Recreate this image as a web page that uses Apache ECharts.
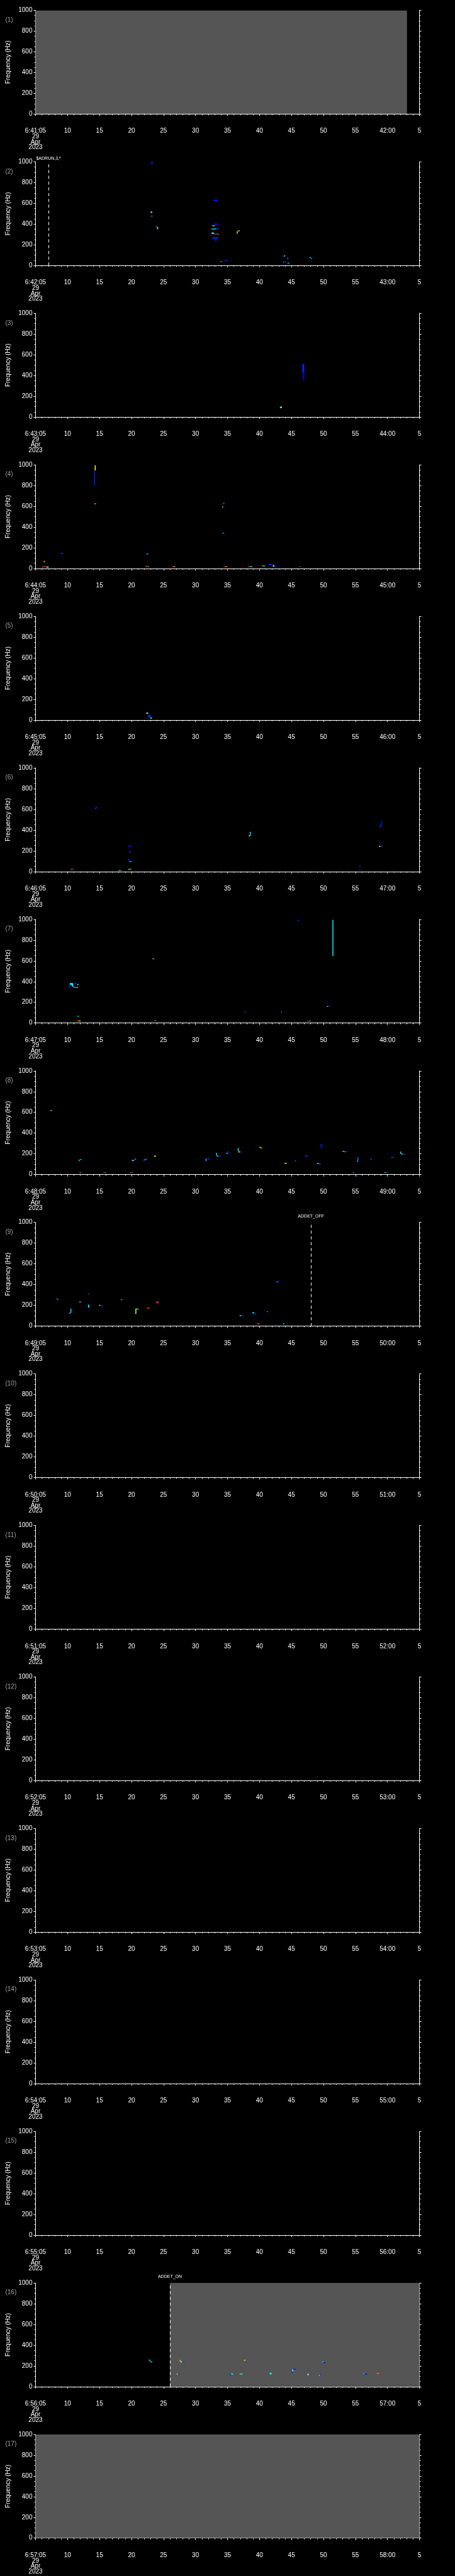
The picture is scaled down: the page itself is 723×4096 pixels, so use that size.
<!DOCTYPE html>
<html>
<head>
<meta charset="utf-8">
<script src="https://cdn.jsdelivr.net/npm/echarts@6/dist/echarts.min.js"></script>
<style>
html, body { margin: 0; padding: 0; background: #000; }
#main { width: 723px; height: 4096px; }
</style>
</head>
<body>
<div id="main"></div>
<script>
// 17 one-minute strips, 29 Apr 2023, each starting at 6:MM:05
var startMinutes = [41, 42, 43, 44, 45, 46, 47, 48, 49, 50, 51, 52, 53, 54, 55, 56, 57];
var panelNames = ['(1)', '(2)', '(3)', '(4)', '(5)', '(6)', '(7)', '(8)', '(9)', '(10)',
                  '(11)', '(12)', '(13)', '(14)', '(15)', '(16)', '(17)'];
var freqTicks = [0, 200, 400, 600, 800, 1000];

// no-data (grey) stretches: [panel, t0, t1] in seconds from strip start
var noDataSpans = [[0, 0, 58.05], [15, 21.0, 60], [16, 0, 60]];

// event markers: [panel, t, text]
var eventMarks = [[1, 2.03, '$ADRUN,3,*'], [8, 43.05, 'ADDET_OFF'], [15, 21.0, 'ADDET_ON']];

// spectrogram cells: [t0, t1, f0, f1, power]  (power 0..10, jet)
var cellsP2 = [
  [18.1, 18.4, 985, 997, 1.5], [18.1, 18.2, 975, 997, 1.5],
  [18.0, 18.2, 508, 522, 6.2], [18.2, 18.4, 510, 518, 1.8],
  [18.0, 18.3, 472, 480, 2.5],
  [18.7, 19.0, 372, 380, 2.0], [19.0, 19.15, 350, 372, 6.3],
  [27.8, 28.5, 620, 630, 1.5], [28.1, 28.3, 630, 640, 1.3],
  [27.6, 28.0, 383, 388, 4.8], [28.0, 28.4, 385, 407, 1.3],
  [27.5, 27.9, 348, 356, 3.8], [27.9, 28.2, 350, 358, 4.5], [28.2, 28.6, 350, 360, 1.8],
  [27.5, 27.9, 305, 318, 3.8], [27.9, 28.1, 296, 304, 8.5], [28.1, 28.4, 300, 310, 1.8], [28.4, 28.6, 300, 306, 3.5],
  [27.6, 28.5, 260, 272, 1.6], [28.1, 28.3, 236, 260, 1.6],
  [28.9, 29.05, 33, 40, 4.5], [29.05, 29.25, 33, 40, 1.8],
  [29.6, 30.0, 44, 51, 1.8],
  [31.4, 31.5, 300, 308, 1.8], [31.45, 31.6, 308, 330, 5.2], [31.6, 31.8, 330, 338, 6.3],
  [31.7, 31.8, 332, 338, 7.5], [31.8, 31.9, 334, 338, 6.0],
  [38.6, 38.85, 87, 95, 1.8], [38.85, 39.0, 88, 96, 6.3], [39.0, 39.2, 92, 98, 1.5],
  [39.3, 39.4, 66, 74, 7.5], [39.4, 39.55, 67, 74, 2.0],
  [38.7, 38.8, 30, 38, 5.0], [38.8, 39.2, 30, 38, 1.6],
  [39.4, 39.6, 20, 27, 3.8], [39.6, 39.8, 20, 27, 1.8],
  [42.85, 43.05, 72, 81, 3.5], [43.05, 43.25, 63, 73, 2.5]
];
var cellsP3 = [
  [41.7, 42.0, 430, 510, 1.6], [41.8, 42.0, 350, 430, 1.3],
  [38.2, 38.5, 85, 100, 4.5]
];
var cellsP4 = [
  [9.25, 9.4, 946, 996, 6.3], [9.15, 9.3, 800, 946, 1.5],
  [9.2, 9.45, 620, 630, 3.5],
  [29.2, 29.35, 626, 634, 8.5], [29.35, 29.55, 626, 634, 2.5],
  [29.15, 29.3, 588, 598, 6.5], [29.3, 29.5, 590, 598, 1.8],
  [29.2, 29.4, 338, 346, 3.6], [29.4, 29.55, 328, 340, 1.5],
  [3.95, 4.3, 140, 152, 1.6],
  [17.3, 17.65, 136, 144, 3.0],
  [1.25, 1.5, 62, 70, 5.2],
  [1.05, 1.2, 5, 21, 8.5], [1.2, 1.7, 16, 22, 8.5], [1.7, 2.05, 8, 20, 3.8],
  [17.2, 17.4, 17, 25, 7.5], [17.4, 17.6, 15, 22, 8.5], [17.6, 17.75, 15, 22, 3.5],
  [21.3, 21.6, 15, 22, 8.5], [21.6, 21.8, 15, 22, 6.3],
  [29.4, 29.7, 15, 22, 8.5], [29.7, 29.9, 15, 22, 6.3],
  [33.2, 33.5, 15, 23, 8.5], [33.5, 33.9, 15, 23, 3.8],
  [35.4, 35.6, 23, 30, 3.8], [35.6, 35.85, 20, 27, 4.3],
  [36.4, 37.0, 32, 40, 1.8], [37.1, 37.3, 17, 36, 5.0], [37.3, 37.8, 15, 22, 1.6],
  [41.25, 41.45, 15, 22, 8.5]
];
var cellsP5 = [
  [17.3, 17.6, 60, 72, 4.8], [17.6, 18.0, 30, 50, 1.6], [17.9, 18.2, 15, 25, 4.0]
];
var cellsP6 = [
  [9.35, 9.5, 600, 620, 1.8], [9.5, 9.7, 615, 622, 1.5],
  [14.5, 14.9, 238, 250, 1.5],
  [14.6, 14.75, 192, 206, 1.5], [14.75, 14.9, 182, 190, 2.5],
  [14.5, 14.65, 100, 123, 1.6], [14.65, 15.05, 92, 100, 3.2],
  [5.5, 5.7, 17, 27, 8.5], [5.7, 5.8, 18, 25, 6.5], [5.8, 6.1, 18, 25, 1.8],
  [12.97, 13.36, 6, 13, 4.2],
  [14.5, 14.7, 19, 26, 6.3], [14.7, 15.0, 19, 26, 3.3],
  [33.5, 33.6, 345, 381, 3.8], [33.55, 33.7, 374, 382, 3.3], [33.35, 33.5, 339, 350, 4.8],
  [53.95, 54.1, 436, 478, 1.5], [53.75, 53.95, 431, 439, 2.5], [54.05, 54.2, 472, 480, 1.5],
  [53.65, 53.9, 238, 248, 6.5], [53.9, 54.3, 241, 249, 1.8],
  [50.6, 50.8, 45, 52, 2.0], [50.6, 50.8, 15, 22, 1.6]
];
var cellsP7 = [
  [5.2, 5.35, 340, 367, 1.5], [5.35, 5.75, 367, 386, 3.5], [5.7, 5.9, 350, 384, 3.8],
  [5.9, 6.3, 340, 350, 2.8], [6.1, 6.45, 378, 390, 1.5], [6.45, 6.75, 368, 374, 3.6],
  [6.45, 6.65, 340, 350, 7.5], [6.35, 6.45, 340, 346, 6.3],
  [40.9, 41.2, 985, 995, 1.6],
  [46.4, 46.55, 647, 995, 3.6],
  [18.3, 18.45, 616, 624, 6.3], [18.45, 18.6, 616, 624, 1.8],
  [45.55, 45.7, 156, 164, 6.3], [45.7, 46.0, 161, 168, 1.6],
  [32.65, 32.85, 105, 112, 2.0], [38.3, 38.5, 105, 112, 2.5],
  [6.5, 6.8, 62, 70, 3.3],
  [6.45, 6.75, 17, 26, 8.5], [6.75, 7.05, 17, 24, 6.3],
  [18.6, 18.85, 20, 27, 3.3],
  [42.45, 42.75, 16, 23, 8.5], [42.75, 43.0, 16, 23, 3.6]
];
var cellsP8 = [
  [2.35, 2.5, 614, 622, 6.3], [2.5, 2.75, 618, 626, 1.8],
  [6.75, 6.9, 128, 142, 3.3], [6.9, 7.2, 140, 149, 2.8],
  [15.0, 15.15, 134, 142, 3.3], [15.15, 15.35, 130, 140, 6.3], [15.35, 15.5, 136, 145, 1.8], [15.5, 15.7, 140, 157, 2.2],
  [16.85, 17.05, 134, 145, 2.2], [17.05, 17.25, 140, 150, 3.0], [17.25, 17.5, 145, 152, 1.8],
  [18.55, 18.8, 172, 182, 6.3],
  [26.55, 26.7, 129, 150, 3.3], [26.7, 27.25, 147, 155, 1.8],
  [28.2, 28.35, 185, 208, 3.5], [28.3, 28.55, 173, 183, 4.0], [28.55, 29.0, 176, 182, 1.8],
  [29.95, 30.1, 205, 225, 1.6], [29.85, 29.95, 198, 210, 5.0], [30.1, 30.4, 205, 212, 1.8],
  [31.6, 31.75, 225, 255, 3.6], [31.7, 31.95, 213, 225, 7.0], [31.95, 32.2, 213, 220, 1.8],
  [35.0, 35.2, 258, 268, 6.3], [35.2, 35.4, 252, 260, 6.6],
  [38.9, 39.3, 106, 113, 5.5],
  [40.5, 40.7, 128, 136, 2.5],
  [42.1, 42.55, 175, 183, 2.0],
  [44.0, 44.25, 104, 113, 3.8], [44.25, 44.55, 100, 107, 2.2],
  [44.55, 44.7, 256, 293, 1.6], [44.7, 44.9, 287, 293, 1.5],
  [47.95, 48.2, 220, 228, 6.8], [48.2, 48.4, 218, 224, 6.0], [48.4, 48.8, 218, 224, 1.8],
  [49.6, 49.8, 17, 24, 3.3],
  [50.3, 50.45, 124, 165, 2.5], [50.4, 50.55, 159, 165, 1.8], [50.2, 50.35, 121, 128, 2.8],
  [52.3, 52.55, 145, 152, 2.2],
  [54.5, 54.75, 17, 24, 4.0], [54.75, 55.0, 17, 24, 2.0],
  [55.55, 56.05, 162, 169, 1.8],
  [57.0, 57.15, 200, 222, 3.5], [57.15, 57.4, 195, 203, 5.0], [57.4, 57.8, 188, 198, 1.6],
  [6.78, 6.95, 17, 24, 8.5], [6.95, 7.15, 17, 24, 3.3],
  [10.6, 10.8, 17, 24, 8.5], [10.8, 11.0, 17, 24, 3.5],
  [14.75, 14.95, 17, 24, 7.5], [14.95, 15.1, 17, 24, 8.5], [15.1, 15.25, 17, 24, 1.8],
  [59.85, 60, 262, 268, 8.0]
];
var cellsP9 = [
  [3.3, 3.55, 254, 266, 2.6],
  [8.2, 8.4, 306, 314, 2.2],
  [6.85, 7.05, 229, 237, 6.3], [7.05, 7.25, 229, 237, 1.8],
  [8.2, 8.4, 178, 206, 3.6], [8.3, 8.45, 200, 206, 1.8],
  [9.9, 10.15, 196, 204, 7.2], [10.15, 10.5, 189, 198, 1.8],
  [5.45, 5.6, 128, 168, 3.5], [5.25, 5.45, 118, 130, 3.0],
  [13.36, 13.5, 250, 258, 6.0], [13.5, 13.6, 250, 258, 2.0],
  [15.6, 15.75, 123, 168, 5.5], [15.7, 16.1, 162, 168, 4.8], [15.55, 15.75, 120, 126, 5.5],
  [17.4, 17.6, 163, 174, 8.5], [17.6, 17.8, 172, 181, 8.0],
  [18.8, 19.05, 226, 236, 8.5], [19.0, 19.2, 216, 228, 8.8], [19.2, 19.4, 230, 236, 1.8], [19.1, 19.2, 228, 236, 7.5],
  [37.6, 38.0, 420, 434, 1.8],
  [33.9, 34.15, 122, 134, 3.8], [34.15, 34.5, 110, 122, 1.5],
  [36.1, 36.35, 135, 142, 2.6],
  [31.9, 32.1, 96, 104, 5.0], [32.1, 32.45, 96, 104, 1.8],
  [34.55, 34.8, 19, 26, 8.5], [34.8, 34.95, 19, 26, 6.3],
  [38.65, 38.9, 19, 26, 3.8]
];
var cellsP16 = [
  [17.7, 17.9, 250, 262, 3.0], [17.85, 18.0, 238, 252, 2.8], [18.0, 18.15, 236, 242, 6.3], [18.15, 18.35, 236, 242, 2.0],
  [22.5, 22.65, 245, 257, 5.0], [22.65, 22.9, 234, 245, 6.3], [22.9, 23.3, 234, 242, 1.8],
  [32.55, 32.65, 250, 258, 7.5], [32.65, 32.8, 250, 258, 6.3],
  [44.85, 45.0, 236, 245, 3.5], [45.0, 45.3, 224, 236, 1.6],
  [40.0, 40.15, 133, 150, 1.6], [40.1, 40.3, 148, 165, 4.3], [40.3, 40.65, 165, 173, 1.5],
  [22.05, 22.25, 118, 125, 6.3], [22.25, 22.5, 118, 125, 1.8],
  [30.3, 30.55, 108, 118, 1.6], [30.55, 30.9, 118, 126, 3.6],
  [31.9, 32.35, 118, 125, 4.3],
  [36.6, 36.9, 118, 134, 3.5],
  [42.5, 42.7, 108, 125, 4.5], [42.7, 42.85, 118, 125, 8.0], [42.85, 43.1, 118, 125, 1.8],
  [44.3, 44.45, 104, 112, 6.3], [44.45, 44.6, 108, 124, 1.8],
  [51.15, 51.4, 124, 130, 3.6], [51.4, 51.85, 118, 126, 1.6],
  [53.3, 53.7, 124, 133, 7.8]
];

var panelCells = {1: cellsP2, 2: cellsP3, 3: cellsP4, 4: cellsP5, 5: cellsP6,
                  6: cellsP7, 7: cellsP8, 8: cellsP9, 15: cellsP16};

// ---- layout (reference pixels scaled to the window) ----
var S = 723 / 1024;
function px(v) { return v * S; }
var FONT = 'Liberation Sans';
var jet = ['#00008f', '#0000ff', '#0080ff', '#00ffff', '#80ff80', '#ffff00', '#ff8000', '#ff0000', '#800000'];
var markLabelGap = {1: px(2), 8: px(9), 15: px(9)};

var chart = echarts.init(document.getElementById('main'));

function timeLabel(m) {
    return function (v) {
        if (v === 0) return '6:' + m + ':05\n29\nApr\n2023';
        var sec = (v + 5) % 60;
        if (sec === 0) return (m + 1) + ':00';
        return String(sec);
    };
}

function rectItem(params, api) {
    var a = api.coord([api.value(0), api.value(3)]);
    var b = api.coord([api.value(1), api.value(2)]);
    return {
        type: 'rect',
        shape: { x: a[0], y: a[1], width: Math.max(b[0] - a[0], 1.2), height: Math.max(b[1] - a[1], 1.2) },
        style: { fill: api.visual('color') }
    };
}

function greyItem(params, api) {
    var a = api.coord([api.value(0), 1000]);
    var b = api.coord([api.value(1), 0]);
    return {
        type: 'rect',
        shape: { x: a[0], y: a[1], width: b[0] - a[0], height: b[1] - a[1] },
        style: { fill: '#555555' }
    };
}

var grids = [], xAxes = [], yAxes = [], series = [], graphics = [], cellSeriesIdx = [];
var axisWhite = { lineStyle: { color: '#ffffff', width: 1 } };

startMinutes.forEach(function (m, i) {
    var top = px(23.3 + 341.2 * i);
    grids.push({ left: px(80), width: px(864), top: top, height: px(233.4) });

    xAxes.push({
        type: 'value', gridIndex: i, min: 0, max: 60, interval: 5,
        position: 'bottom', offset: px(24.3),
        axisLine: axisWhite,
        axisTick: { show: true, length: px(4.3), lineStyle: { color: '#fff' } },
        minorTick: { show: true, splitNumber: 5, length: px(2.7), lineStyle: { color: '#fff' } },
        splitLine: { show: false },
        axisLabel: {
            color: '#fff', fontFamily: FONT, fontSize: 10, lineHeight: 8.6,
            margin: 6, showMinLabel: true, showMaxLabel: true,
            formatter: timeLabel(m)
        }
    });

    var yBase = {
        type: 'value', gridIndex: i, min: 0, max: 1000, interval: 200,
        axisLine: { show: true, lineStyle: { color: '#fff', width: 1 } },
        axisTick: { show: true, length: px(4.3), lineStyle: { color: '#fff' } },
        minorTick: { show: true, splitNumber: 4, length: px(2.7), lineStyle: { color: '#fff' } },
        splitLine: { show: false }
    };
    yAxes.push(Object.assign({}, yBase, {
        position: 'left',
        name: 'Frequency (Hz)', nameLocation: 'middle', nameGap: 33,
        nameTextStyle: { color: '#fff', fontFamily: FONT, fontSize: 10 },
        axisLabel: {
            color: '#fff', fontFamily: FONT, fontSize: 10, margin: 5,
            formatter: function (v) { return freqTicks.indexOf(v) >= 0 ? String(v) : ''; }
        }
    }));
    yAxes.push(Object.assign({}, yBase, { position: 'right', axisLabel: { show: false } }));

    // grey no-data stretches
    var spans = noDataSpans.filter(function (d) { return d[0] === i; })
                           .map(function (d) { return [d[1], d[2]]; });
    series.push({
        type: 'custom', xAxisIndex: i, yAxisIndex: 2 * i, z: 1, silent: true,
        renderItem: greyItem, data: spans, clip: true
    });

    // spectrogram cells + event markers
    var marks = eventMarks.filter(function (d) { return d[0] === i; });
    var s = {
        type: 'custom', xAxisIndex: i, yAxisIndex: 2 * i, z: 2, silent: true,
        renderItem: rectItem, data: panelCells[i] || [], clip: true,
        encode: { x: [0, 1], y: [2, 3] }
    };
    if (marks.length) {
        s.markLine = {
            silent: true, symbol: ['none', 'none'], animation: false,
            lineStyle: { color: '#fff', type: [px(7), px(6)], width: 1 },
            label: {
                show: true, position: 'end', color: '#fff', fontFamily: FONT, fontSize: 7,
                distance: markLabelGap[i], formatter: '{b}'
            },
            data: marks.map(function (d) { return { xAxis: d[1], name: d[2] }; })
        };
    }
    cellSeriesIdx.push(series.length);
    series.push(s);

    graphics.push({
        type: 'text', left: px(12), top: top + px(23.4) - 6,
        style: { text: panelNames[i], fill: '#a0a0a0', font: '10px "' + FONT + '"' }
    });
});

chart.setOption({
    backgroundColor: '#000000',
    animation: false,
    grid: grids,
    xAxis: xAxes,
    yAxis: yAxes,
    visualMap: {
        type: 'continuous', show: false, min: 0, max: 10, dimension: 4,
        seriesIndex: cellSeriesIdx, inRange: { color: jet }
    },
    graphic: graphics,
    series: series
});
</script>
</body>
</html>
